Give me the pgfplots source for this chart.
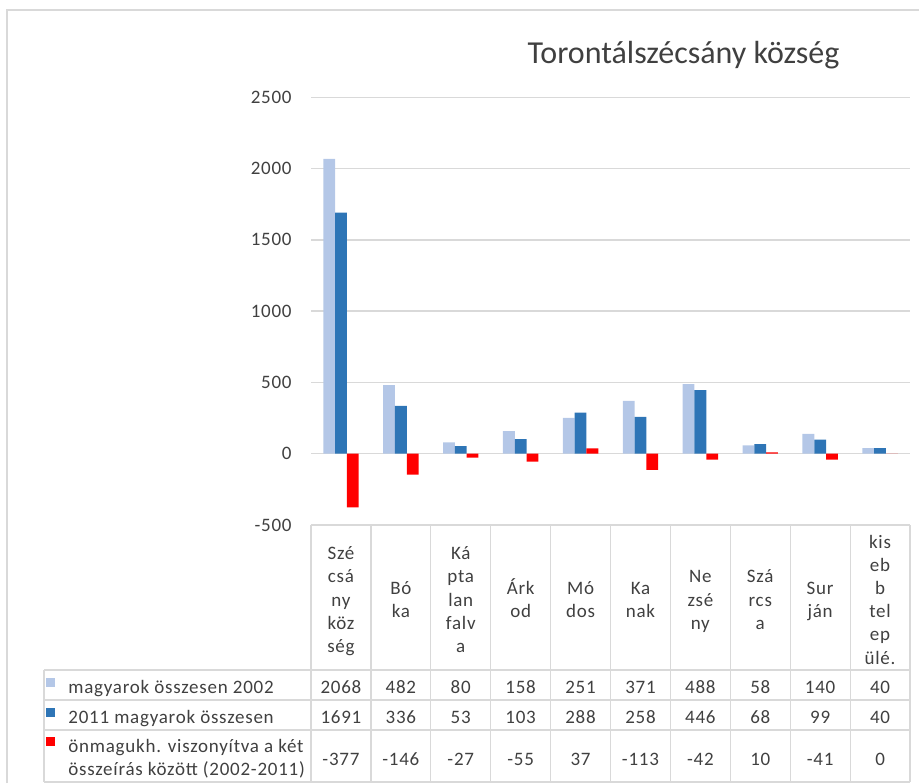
\documentclass[border=0pt]{standalone}
\usepackage{pgfplots}
\pgfplotsset{compat=1.18}
\usepackage{pgfplotstable}
\usepackage{fontspec}
\setmainfont{Carlito}
\newfontfamily\tbl[LetterSpace=4]{Carlito}
\definecolor{lb}{HTML}{B4C7E7}
\definecolor{db}{HTML}{2E75B6}
\definecolor{rd}{HTML}{FF0000}
\definecolor{gridc}{HTML}{D9D9D9}
\definecolor{txt}{HTML}{404040}
\pgfplotstableread{
idx a b c
0 2068 1691 -377
1 482 336 -146
2 80 53 -27
3 158 103 -55
4 251 288 37
5 371 258 -113
6 488 446 -42
7 58 68 10
8 140 99 -41
9 40 40 0
}\data
\newcommand\hdr[3]{%
  \foreach \l [count=\k from 0] in {#3} {%
    \node[anchor=base] at ({340.95+59.9*#1},{606-(#2-1)*11.6+\k*23.2}) {\l};}}
\begin{document}
\begin{tikzpicture}
\path[use as bounding box] (0,0) rectangle (459.5pt,391.5pt);
\begin{axis}[at={(155.5pt,129pt)}, anchor=south west, scale only axis,
  width=299.5pt, height=213.85pt,
  xmin=-0.5, xmax=9.5, ymin=-500, ymax=2500,
  xtick=\empty,
  ytick={-500,0,500,1000,1500,2000,2500},
  yticklabels={-500,0,500,1000,1500,2000,2500},
  axis line style={draw=none}, major tick length=0pt,
  ymajorgrids, grid style={draw=gridc, line width=0.75pt},
  yticklabel style={font=\tbl\fontsize{9.5}{11}\selectfont, text=txt, anchor=east, inner sep=0pt, xshift=-9.5pt},
  ybar=0pt, bar width=5.9pt, clip=false]
\addplot[fill=lb, draw=none] table[x=idx,y=a]{\data};
\addplot[fill=db, draw=none] table[x=idx,y=b]{\data};
\addplot[fill=rd, draw=none] table[x=idx,y=c]{\data};
\end{axis}
\begin{scope}[x=0.5pt, y=-0.5pt, shift={(0,391.5pt)},
  every node/.style={font=\tbl\fontsize{9.5}{11.6}\selectfont, text=txt, inner sep=0pt}]
\draw[gridc, line width=0.75pt] (7,783) -- (7,10) -- (919,10);
\draw[gridc, line width=0.6pt] (311,525) -- (910,525);
\foreach \yy in {670,700,730,782} \draw[gridc, line width=0.6pt] (44,\yy) -- (910,\yy);
\foreach \i in {0,...,10} \draw[gridc, line width=0.6pt] ({311+59.9*\i},525) -- ({311+59.9*\i},782);
\draw[gridc, line width=0.6pt] (44,670) -- (44,782);
\node[font=\fontsize{16}{18}\selectfont] at (683.5,55) {Torontálszécsány község};
\hdr{0}{5}{Szé,csá,ny,köz,ség}
\hdr{1}{2}{Bó,ka}
\hdr{2}{5}{Ká,pta,lan,falv,a}
\hdr{3}{2}{Árk,od}
\hdr{4}{2}{Mó,dos}
\hdr{5}{2}{Ka,nak}
\hdr{6}{3}{Ne,zsé,ny}
\hdr{7}{3}{Szá,rcs,a}
\hdr{8}{2}{Sur,ján}
\hdr{9}{6}{kis,eb,b,tel,ep,ülé.}
\foreach \v [count=\k from 0] in {2068,482,80,158,251,371,488,58,140,40}
  \node[anchor=base] at ({340.95+59.9*\k},693) {\v};
\foreach \v [count=\k from 0] in {1691,336,53,103,288,258,446,68,99,40}
  \node[anchor=base] at ({340.95+59.9*\k},723) {\v};
\foreach \v [count=\k from 0] in {-377,-146,-27,-55,37,-113,-42,10,-41,0}
  \node[anchor=base] at ({340.95+59.9*\k},765) {\v};
\fill[lb] (46,678) rectangle (55,687);
\fill[db] (46,708) rectangle (55,717);
\fill[rd] (46,737) rectangle (55,746);
\node[anchor=base west] at (68,693) {magyarok összesen 2002};
\node[anchor=base west] at (68,723) {2011 magyarok összesen};
\node[anchor=base west] at (68,752) {önmagukh. viszonyítva a két};
\node[anchor=base west] at (68,775) {összeírás között (2002-2011)};
\end{scope}
\end{tikzpicture}
\end{document}
